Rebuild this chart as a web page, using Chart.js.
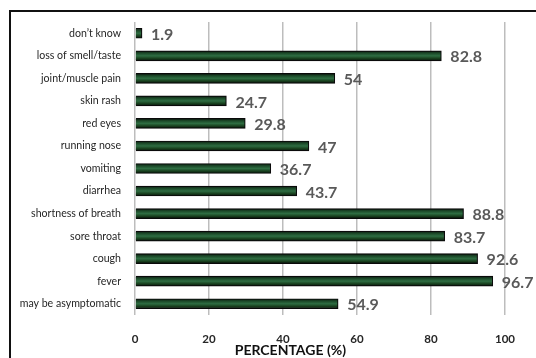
<!DOCTYPE html>
<html>
<head>
<meta charset="utf-8">
<script src="https://cdn.jsdelivr.net/npm/chart.js@4.4.1/dist/chart.umd.min.js"></script>
<style>
  html, body { margin: 0; padding: 0; background: #ffffff; }
  #wrap { width: 536px; height: 358px; position: relative; }
</style>
</head>
<body>
<div id="wrap"><canvas id="c" width="536" height="358"></canvas></div>
<script>
// Reported symptoms, top to bottom
const symptoms = [
  "don’t know",
  "loss of smell/taste",
  "joint/muscle pain",
  "skin rash",
  "red eyes",
  "running nose",
  "vomiting",
  "diarrhea",
  "shortness of breath",
  "sore throat",
  "cough",
  "fever",
  "may be asymptomatic"
];
const percentages = [1.9, 82.8, 54, 24.7, 29.8, 47, 36.7, 43.7, 88.8, 83.7, 92.6, 96.7, 54.9];
const axisTicks = [0, 20, 40, 60, 80, 100];
const axisTitle = "PERCENTAGE (%)";

// Outer frame around the whole figure
const framePlugin = {
  id: 'frame',
  beforeDraw(chart) {
    const c = chart.ctx;
    c.save();
    c.fillStyle = '#ffffff';
    c.fillRect(0, 0, chart.width, chart.height);
    c.strokeStyle = '#111111';
    c.lineWidth = 2;
    c.strokeRect(10, 11, chart.width + 20, chart.height + 20);
    c.restore();
  }
};

// Give each bar its own dark-edged green tube shading
const barShadePlugin = {
  id: 'barShade',
  beforeDatasetDraw(chart, args) {
    const c = chart.ctx;
    args.meta.data.forEach(el => {
      const h = el.height;
      const g = c.createLinearGradient(0, el.y - h / 2, 0, el.y + h / 2);
      g.addColorStop(0, '#0b1c10');
      g.addColorStop(0.25, '#1c4a29');
      g.addColorStop(0.5, '#2e6d42');
      g.addColorStop(0.75, '#19421f');
      g.addColorStop(1, '#08150b');
      const own = Object.create(el.options);
      own.backgroundColor = g;
      el.options = own;
    });
  }
};

// Value labels at the end of each bar
const valueLabelPlugin = {
  id: 'valueLabels',
  afterDatasetsDraw(chart) {
    const c = chart.ctx;
    const meta = chart.getDatasetMeta(0);
    c.save();
    c.font = 'bold 16px Lato, "Open Sans", sans-serif';
    c.fillStyle = '#595959';
    c.textAlign = 'left';
    c.textBaseline = 'middle';
    meta.data.forEach((el, i) => {
      c.fillText(String(percentages[i]), el.x + 9, el.y + 1.5);
    });
    c.restore();
  }
};

// Axis title, placed a little left of the plot centre
const axisTitlePlugin = {
  id: 'axisTitle',
  afterDraw(chart) {
    const c = chart.ctx;
    const a = chart.chartArea;
    c.save();
    c.font = 'bold 14px Lato, "Open Sans", sans-serif';
    c.fillStyle = '#111111';
    c.textAlign = 'center';
    c.textBaseline = 'middle';
    c.fillText(axisTitle, a.left + (a.right - a.left) * 0.42, 350);
    c.restore();
  }
};

new Chart(document.getElementById('c'), {
  type: 'bar',
  data: {
    labels: symptoms,
    datasets: [{
      data: percentages,
      backgroundColor: '#1e4d2b',
      borderColor: '#0a0a0a',
      borderWidth: 1.2,
      barThickness: 10
    }]
  },
  options: {
    indexAxis: 'y',
    responsive: false,
    animation: false,
    devicePixelRatio: 1,
    layout: { padding: { top: 22, right: 31, left: 0, bottom: 0 } },
    plugins: {
      legend: { display: false },
      tooltip: { enabled: false }
    },
    scales: {
      x: {
        min: axisTicks[0],
        max: axisTicks[axisTicks.length - 1],
        afterBuildTicks(scale) { scale.ticks = axisTicks.map(v => ({ value: v })); },
        afterFit(scale) { scale.height = 43; },
        grid: { color: '#bdbdbd', lineWidth: 1.5, drawTicks: false },
        border: { display: false },
        ticks: {
          padding: 17,
          color: '#262626',
          font: { family: 'Lato, "Open Sans", sans-serif', size: 11.5, weight: 'bold' }
        }
      },
      y: {
        afterFit(scale) { scale.width = 135; },
        grid: { display: false, drawTicks: false },
        border: { display: false },
        ticks: {
          padding: 14,
          color: '#262626',
          autoSkip: false,
          font: { family: 'Lato, "Open Sans", sans-serif', size: 10.6 }
        }
      }
    }
  },
  plugins: [framePlugin, barShadePlugin, valueLabelPlugin, axisTitlePlugin]
});
</script>
</body>
</html>
